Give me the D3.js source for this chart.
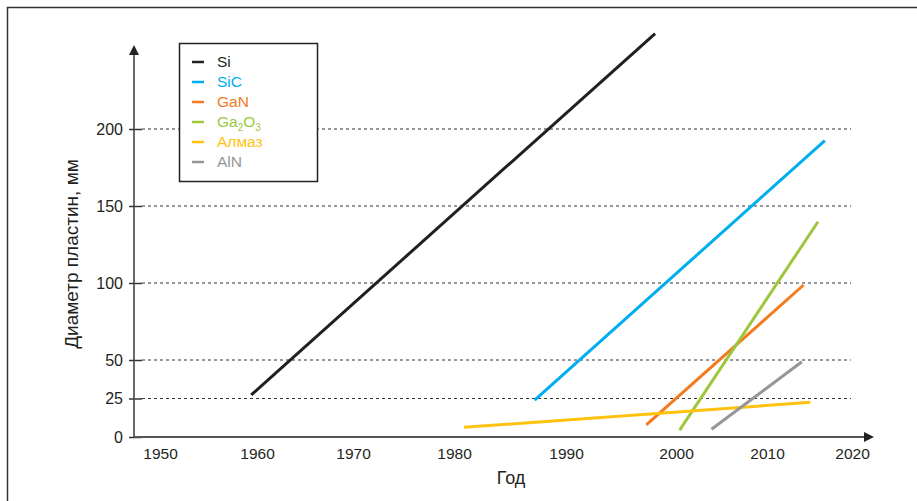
<!DOCTYPE html>
<html>
<head>
<meta charset="utf-8">
<script src="https://cdn.jsdelivr.net/npm/d3@7"></script>
<style>
  body { margin: 0; background: #fff; }
  svg { font-family: "Liberation Sans", Arial, sans-serif; }
</style>
</head>
<body>
<svg id="chart" width="917" height="501"></svg>
<script>
"use strict"

// materials and their wafer-diameter growth lines: [year, mm] start -> end
const materials = ["Si", "SiC", "GaN", "Ga2O3", "Алмаз", "AlN"];
const colors = ["#231f20", "#00aeef", "#f47a20", "#9cc83c", "#ffc20e", "#969696"];
const startPoints = [[1959.4, 27.3], [1987.2, 24], [1997.3, 7.8], [2000.4, 4.5], [1980.9, 6.3], [2003.9, 5]];
const endPoints = [[1998.1, 262], [2016.8, 192.4], [2014.3, 98.7], [2016.0, 139.8], [2015.1, 22.5], [2014.1, 48.9]];

const yearTicks = [1950, 1960, 1970, 1980, 1990, 2000, 2010, 2020];
const mmTicks = [0, 25, 50, 100, 150, 200];
const gridTicks = [25, 50, 100, 150, 200];

const svg = d3.select("#chart");

// outer frame (right and bottom edges fall outside the picture)
svg.append("rect")
    .attr("x", 7.5).attr("y", 7.5)
    .attr("width", 1000).attr("height", 600)
    .attr("fill", "none")
    .attr("stroke", "#333")
    .attr("stroke-width", 1.5);

// the year labels are not evenly spaced in the original, so a polylinear scale
const x = d3.scaleLinear()
    .domain(yearTicks)
    .range([160, 257, 353, 454, 566, 676, 767, 852]);

const y = d3.scaleLinear()
    .domain([0, 200])
    .range([437, 129]);

const axisX = 134;
const gridEnd = 851;

// dotted grid lines
svg.append("g")
    .selectAll("line")
    .data(gridTicks)
    .join("line")
    .attr("x1", 142)
    .attr("x2", gridEnd)
    .attr("y1", d => y(d))
    .attr("y2", d => y(d))
    .attr("stroke", "#333")
    .attr("stroke-width", 1.2)
    .attr("stroke-dasharray", "3,3");

// y axis
const yAxis = svg.append("g")
    .attr("transform", `translate(${axisX},0)`)
    .call(d3.axisLeft(y).tickValues(mmTicks).tickSize(5).tickPadding(6).tickFormat(d3.format("d")));
yAxis.select(".domain").remove();
yAxis.selectAll(".tick line")
    .attr("x1", -5).attr("x2", 8)
    .attr("stroke", "#333").attr("stroke-width", 1.5);
yAxis.selectAll(".tick text")
    .attr("font-size", 16)
    .attr("fill", "#231f20")
    .attr("font-family", "Liberation Sans, Arial, sans-serif");

svg.append("line")
    .attr("x1", axisX).attr("x2", axisX)
    .attr("y1", y(0)).attr("y2", 54)
    .attr("stroke", "#444").attr("stroke-width", 1.6);
svg.append("path")
    .attr("d", `M${axisX - 5},55 L${axisX},45 L${axisX + 5},55 Z`)
    .attr("fill", "#222");

// x axis
const xAxis = svg.append("g")
    .attr("transform", `translate(0,${y(0)})`)
    .call(d3.axisBottom(x).tickValues(yearTicks).tickSize(0).tickPadding(11).tickFormat(d3.format("d")));
xAxis.select(".domain").remove();
xAxis.selectAll(".tick text")
    .attr("font-size", 15.5)
    .attr("fill", "#231f20")
    .attr("font-family", "Liberation Sans, Arial, sans-serif");

svg.append("line")
    .attr("x1", axisX).attr("x2", 865)
    .attr("y1", y(0)).attr("y2", y(0))
    .attr("stroke", "#555").attr("stroke-width", 2);
svg.append("path")
    .attr("d", `M864,${y(0) - 5} L874,${y(0)} L864,${y(0) + 5} Z`)
    .attr("fill", "#222");

// axis titles
svg.append("text")
    .attr("x", 511).attr("y", 484)
    .attr("text-anchor", "middle")
    .attr("font-size", 18)
    .attr("fill", "#231f20")
    .text("Год");

svg.append("text")
    .attr("transform", "translate(78,254) rotate(-90)")
    .attr("text-anchor", "middle")
    .attr("font-size", 19)
    .attr("fill", "#231f20")
    .text("Диаметр пластин, мм");

// material lines
const lines = materials.map((m, i) => ({ name: m, color: colors[i], pts: [startPoints[i], endPoints[i]] }));
const lineGen = d3.line().x(d => x(d[0])).y(d => y(d[1]));

svg.append("g")
    .selectAll("path")
    .data(lines)
    .join("path")
    .attr("d", d => lineGen(d.pts))
    .attr("fill", "none")
    .attr("stroke", d => d.color)
    .attr("stroke-width", 3);

// legend
const legend = svg.append("g");
legend.append("rect")
    .attr("x", 179.5).attr("y", 43.5)
    .attr("width", 138).attr("height", 138)
    .attr("fill", "#fff")
    .attr("stroke", "#222")
    .attr("stroke-width", 1.5);

const rows = legend.selectAll("g.row")
    .data(lines)
    .join("g")
    .attr("class", "row")
    .attr("transform", (d, i) => `translate(0,${62 + i * 20})`);

rows.append("line")
    .attr("x1", 192).attr("x2", 204)
    .attr("stroke", d => d.color)
    .attr("stroke-width", 2.5);

rows.append("text")
    .attr("x", 217)
    .attr("dy", "0.35em")
    .attr("font-size", 15.5)
    .attr("fill", d => d.color)
    .each(function (d) {
        const t = d3.select(this);
        if (d.name === "Ga2O3") {
            t.append("tspan").text("Ga");
            t.append("tspan").attr("font-size", 10).attr("dy", 4).text("2");
            t.append("tspan").attr("dy", -4).text("O");
            t.append("tspan").attr("font-size", 10).attr("dy", 4).text("3");
        } else {
            t.text(d.name);
        }
    });
</script>
</body>
</html>
